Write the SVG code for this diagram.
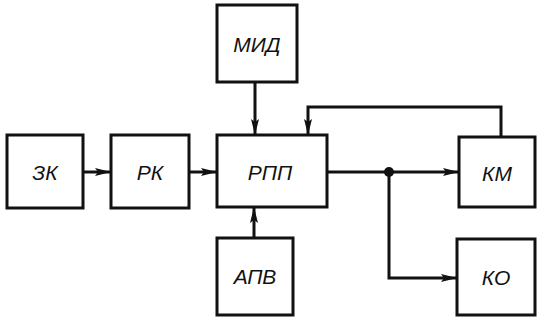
<svg xmlns="http://www.w3.org/2000/svg" width="542" height="321" viewBox="0 0 542 321">
<style>
.box{fill:#fff;stroke:#111;stroke-width:3}
.lbl{font-family:"Liberation Sans",Arial,sans-serif;font-style:italic;font-size:21px;fill:#111;text-anchor:middle;dominant-baseline:central}
.ln{fill:none;stroke:#111;stroke-width:3}
</style>
<defs>
<marker id="ah" viewBox="0 0 16 8" refX="16" refY="4" markerWidth="16" markerHeight="8" markerUnits="userSpaceOnUse" orient="auto">
<path d="M0,0 L16,4 L0,8 L3,4 Z" fill="#111"/>
</marker>
</defs>
<rect width="542" height="321" fill="#fff"/>
<g id="connectors">
<line class="ln" x1="83" y1="172" x2="111" y2="172" marker-end="url(#ah)"/>
<line class="ln" x1="189" y1="172" x2="217" y2="172" marker-end="url(#ah)"/>
<line class="ln" x1="255" y1="82" x2="255" y2="135" marker-end="url(#ah)"/>
<line class="ln" x1="254" y1="238" x2="254" y2="207" marker-end="url(#ah)"/>
<line class="ln" x1="327" y1="172" x2="459" y2="172" marker-end="url(#ah)"/>
<polyline class="ln" points="501,137 501,107 308,107 308,135" marker-end="url(#ah)"/>
<polyline class="ln" points="389,172 389,278 457,278" marker-end="url(#ah)"/>
<circle cx="389" cy="172" r="5" fill="#111"/>
</g>
<g id="zk"><rect class="box" x="7" y="135" width="76" height="73"/><text class="lbl" x="45" y="172">ЗК</text></g>
<g id="rk"><rect class="box" x="111" y="135" width="78" height="73"/><text class="lbl" x="150" y="172">РК</text></g>
<g id="mid"><rect class="box" x="217" y="5" width="80" height="77"/><text class="lbl" x="257" y="44">МИД</text></g>
<g id="rpp"><rect class="box" x="217" y="135" width="110" height="72"/><text class="lbl" x="270" y="172">РПП</text></g>
<g id="apv"><rect class="box" x="217" y="238" width="76" height="77"/><text class="lbl" x="255" y="276">АПВ</text></g>
<g id="km"><rect class="box" x="459" y="137" width="76" height="70"/><text class="lbl" x="497" y="173">КМ</text></g>
<g id="ko"><rect class="box" x="457" y="239" width="78" height="76"/><text class="lbl" x="496" y="277">КО</text></g>
</svg>
